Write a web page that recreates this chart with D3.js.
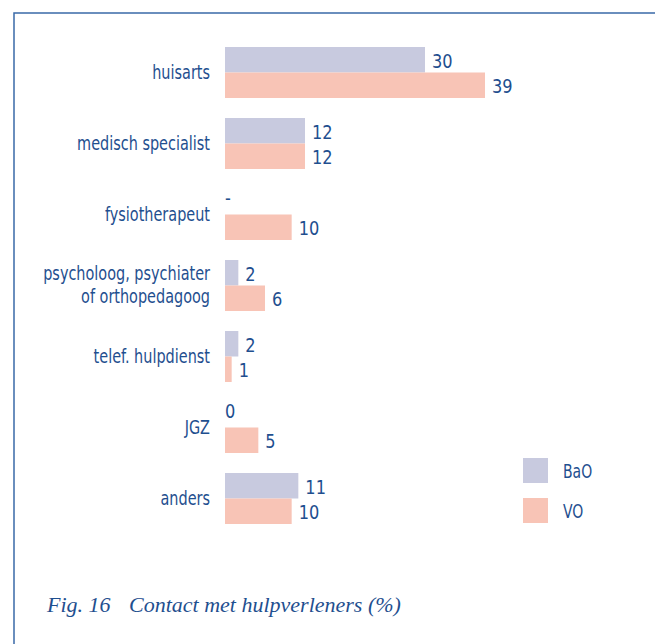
<!DOCTYPE html>
<html>
<head>
<meta charset="utf-8">
<script src="https://cdn.jsdelivr.net/npm/d3@7"></script>
<style>
  body { margin: 0; background: #fff; }
  svg text { fill: #1f4f8f; }
</style>
</head>
<body>
<div id="chart"></div>
<script>
// data
const categories = ["huisarts", "medisch specialist", "fysiotherapeut", "psycholoog, psychiater|of orthopedagoog", "telef. hulpdienst", "JGZ", "anders"];
const seriesNames = ["BaO", "VO"];
const baoValues = [30, 12, null, 2, 2, 0, 11];
const voValues = [39, 12, 10, 6, 1, 5, 10];
const colors = ["#c8cadf", "#f8c4b6"];

const width = 655, height = 644;
const labelFont = "'DejaVu Sans Condensed', 'DejaVu Sans', sans-serif";

const svg = d3.select("#chart").append("svg")
    .attr("width", width)
    .attr("height", height);

// frame (open on right and bottom)
svg.append("path")
    .attr("d", `M14,${height} L14,13 L${width},13`)
    .attr("fill", "none")
    .attr("stroke", "#3a6aa8")
    .attr("stroke-width", 1.5);

const x = d3.scaleLinear().domain([0, 30]).range([225, 425]);
const y = d3.scaleBand().domain(categories).range([47, 524]).paddingInner(20 / 71).paddingOuter(0);
const ySub = d3.scaleBand().domain(seriesNames).range([0, y.bandwidth()]);

const rows = categories.map((c, i) => ({ cat: c, values: [baoValues[i], voValues[i]] }));

// small helper: text placed at (tx,ty), squeezed horizontally for the condensed look
function label(parent, tx, ty, anchor, size, squeeze) {
    return parent.append("g")
        .attr("transform", `translate(${tx},${ty}) scale(${squeeze},1)`)
        .append("text")
        .attr("text-anchor", anchor)
        .style("font-family", labelFont)
        .style("font-size", size + "px");
}

const row = svg.selectAll("g.row")
    .data(rows)
    .enter().append("g")
    .attr("class", "row")
    .attr("transform", d => `translate(0,${y(d.cat)})`);

// category labels
row.each(function (d) {
    const lines = d.cat.split("|");
    const t = label(d3.select(this), 210, y.bandwidth() / 2, "end", 19, 0.845);
    lines.forEach((l, i) => {
        t.append("tspan")
            .attr("x", 0)
            .attr("dy", i === 0 ? (6 - (lines.length - 1) * 12) : 24)
            .text(l);
    });
});

// bars + value labels
row.each(function (d) {
    const r = d3.select(this);
    seriesNames.forEach((s, k) => {
        const v = d.values[k];
        if (v !== null && v > 0) {
            r.append("rect")
                .attr("x", x(0))
                .attr("y", ySub(s))
                .attr("width", x(v) - x(0))
                .attr("height", ySub.bandwidth())
                .attr("fill", colors[k]);
        }
        const empty = v === null || v === 0;
        label(r, empty ? x(0) : x(v) + 7, ySub(s) + ySub.bandwidth() / 2 + (empty ? 3 : 8), "start", 20, 0.9)
            .text(v === null ? "-" : v);
    });
});

// legend
const legend = svg.append("g").attr("transform", "translate(523,458)");
seriesNames.forEach((s, k) => {
    legend.append("rect")
        .attr("x", 0)
        .attr("y", k * 40)
        .attr("width", 25)
        .attr("height", 25)
        .attr("fill", colors[k]);
    label(legend, 40, k * 40 + 20, "start", 19, 0.82).text(s);
});

// caption
const cap = svg.append("text")
    .attr("y", 612)
    .style("font-family", "'Liberation Serif', 'DejaVu Serif', serif")
    .style("font-style", "italic")
    .style("font-size", "22px");
cap.append("tspan").attr("x", 47).text("Fig. 16");
cap.append("tspan").attr("x", 129).text("Contact met hulpverleners (%)");
</script>
</body>
</html>
